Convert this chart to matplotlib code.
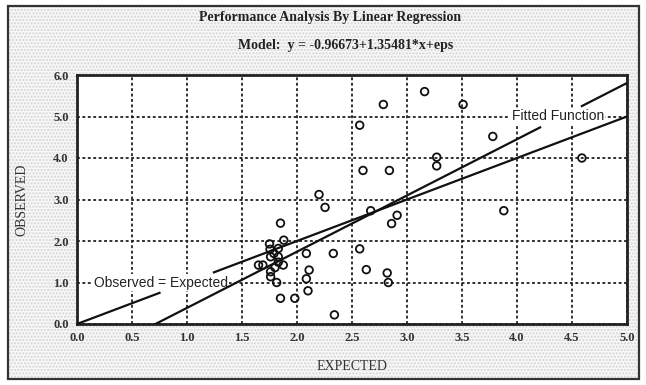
import matplotlib
matplotlib.use('Agg')

import numpy as np
import matplotlib.pyplot as plt
from matplotlib.patches import Rectangle

# Observed vs expected values
expected = [1.75, 1.755, 1.83, 1.79, 1.76, 1.83, 1.65, 1.69, 1.83, 1.875, 1.80,
            1.76, 1.76, 1.815, 1.85, 1.88, 2.20, 2.255, 2.085, 2.33, 2.11, 2.085,
            2.10, 1.85, 1.98, 2.34, 2.57, 2.63, 2.82, 2.83, 2.67, 2.91, 2.86,
            2.60, 2.84, 2.57, 2.785, 3.16, 3.51, 3.27, 3.27, 3.78, 3.88, 4.59]
observed = [1.93, 1.80, 1.82, 1.70, 1.62, 1.62, 1.42, 1.42, 1.49, 1.42, 1.36,
            1.26, 1.14, 1.00, 2.43, 2.02, 3.12, 2.81, 1.70, 1.70, 1.30, 1.09,
            0.80, 0.62, 0.62, 0.22, 1.81, 1.31, 1.23, 1.00, 2.73, 2.62, 2.42,
            3.70, 3.70, 4.79, 5.29, 5.60, 5.29, 4.02, 3.81, 4.52, 2.73, 4.00]

# regression model
b0 = -0.96673
b1 = 1.35481

xticks = [0.0, 0.5, 1.0, 1.5, 2.0, 2.5, 3.0, 3.5, 4.0, 4.5, 5.0]
yticks = [0.0, 1.0, 2.0, 3.0, 4.0, 5.0, 6.0]

serif = 'Liberation Serif'
sans = 'Liberation Sans'

fig = plt.figure(figsize=(6.46, 3.85), dpi=100)
fig.patch.set_facecolor('white')

# dotted backdrop with outer frame
bg = Rectangle((8/646, 6/385), 631/646, 373/385, transform=fig.transFigure,
               facecolor='#f7f7f7', edgecolor='#d4d4d4', hatch='.....',
               linewidth=0, zorder=0)
fig.add_artist(bg)
frame = Rectangle((8/646, 6/385), 631/646, 373/385, transform=fig.transFigure,
                  facecolor='none', edgecolor='#333333', linewidth=1.6, zorder=1)
fig.add_artist(frame)

ax = fig.add_axes([77/646, 1 - 324/385, 550/646, 249/385])
ax.set_facecolor('white')
ax.set_xlim(0, 5)
ax.set_ylim(0, 6)

ax.set_xticks(xticks)
ax.set_yticks(yticks)
ax.set_xticklabels(['%.1f' % t for t in xticks], fontfamily=serif,
                   fontweight='bold', fontsize=9, color='#333333')
ax.set_yticklabels(['%.1f' % t for t in yticks], fontfamily=serif,
                   fontweight='bold', fontsize=9, color='#333333')
ax.tick_params(length=0, pad=6)
ax.grid(True, color='#222222', linestyle=(0, (1.6, 1.4)), linewidth=1.3)
ax.set_axisbelow(True)
for s in ax.spines.values():
    s.set_linewidth(2.0)
    s.set_color('#222222')

# Observed = Expected line (broken where it meets its label)
xa = np.array([0.0, 0.75])
xb = np.array([1.245, 5.0])
ax.plot(xa, xa, color='#111111', lw=1.6, zorder=3)
ax.plot(xb, xb, color='#111111', lw=1.6, zorder=3)

# fitted regression line
x0 = -b0 / b1
xf1 = np.array([x0, 4.21])
xf2 = np.array([4.59, 5.0])
ax.plot(xf1, b0 + b1*xf1, color='#111111', lw=1.6, zorder=3)
ax.plot(xf2, b0 + b1*xf2, color='#111111', lw=1.6, zorder=3)

ax.text(0.15, 1.0, 'Observed = Expected', fontfamily=sans, fontsize=10,
        va='center', ha='left', color='#222222', zorder=2.5,
        bbox=dict(facecolor='white', edgecolor='none', pad=1.0))
ax.text(3.95, 5.0, 'Fitted Function', fontfamily=sans, fontsize=10,
        va='center', ha='left', color='#222222', zorder=2.5,
        bbox=dict(facecolor='white', edgecolor='none', pad=1.0))

ax.scatter(expected, observed, s=30, facecolors='none', edgecolors='#111111',
           linewidths=1.3, zorder=4)

ax.set_xlabel('EXPECTED', fontfamily=serif, fontsize=10, color='#333333',
              labelpad=11)
ax.set_ylabel('OBSERVED', fontfamily=serif, fontsize=10, color='#333333',
              labelpad=18)

fig.text(330/646, 1 - 18/385, 'Performance Analysis By Linear Regression',
         fontfamily=serif, fontweight='bold', fontsize=10, color='#222222',
         ha='center', va='center')
fig.text(346/646, 1 - 46/385, 'Model:  y = -0.96673+1.35481*x+eps',
         fontfamily=serif, fontweight='bold', fontsize=10, color='#222222',
         ha='center', va='center')

plt.savefig('out.png', dpi=100)
